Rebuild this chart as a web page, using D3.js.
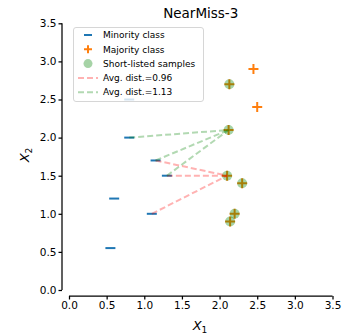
<!DOCTYPE html>
<html>
<head>
<meta charset="utf-8">
<script src="https://cdn.jsdelivr.net/npm/d3@7"></script>
<style>
  body { margin: 0; background: #fff; }
  text { font-family: "DejaVu Sans", sans-serif; }
</style>
</head>
<body>
<div id="chart"></div>
<script>
// data
const minorityX = [0.8, 0.8, 1.15, 1.3, 0.6, 1.1, 0.55];
const minorityY = [2.5, 2.0, 1.7, 1.5, 1.2, 1.0, 0.55];
const majorityX = [2.1, 2.12, 2.13, 2.14, 2.2, 2.3, 2.5, 2.45];
const majorityY = [1.5, 2.1, 2.7, 0.9, 1.0, 1.4, 2.4, 2.9];
const shortListed = [0, 1, 2, 3, 4, 5]; // indices into majority
// dashed links: [minority index, majority index]
const redLinks = [[2, 0], [3, 0], [5, 0]];
const greenLinks = [[1, 1], [2, 1], [3, 1]];
const ticks = [0, 0.5, 1, 1.5, 2, 2.5, 3, 3.5];
const legendLabels = ["Minority class", "Majority class", "Short-listed samples", "Avg. dist.=0.96", "Avg. dist.=1.13"];

const W = 350, H = 336;
const blue = "#1f77b4", orange = "#ff7f0e";

const svg = d3.select("#chart")
  .append("svg")
    .attr("width", W)
    .attr("height", H);

const x = d3.scaleLinear().domain([0, 3.5]).range([69, 332.5]);
const y = d3.scaleLinear().domain([0, 3.5]).range([290, 23.3]);

// axes (despined + offset)
const xAxis = svg.append("g")
  .attr("transform", "translate(0,296)")
  .call(d3.axisBottom(x).tickValues(ticks).tickFormat(d3.format(".1f")).tickSize(3.5).tickPadding(2));
const yAxis = svg.append("g")
  .attr("transform", "translate(62,0)")
  .call(d3.axisLeft(y).tickValues(ticks).tickFormat(d3.format(".1f")).tickSize(3.5).tickPadding(2));

[xAxis, yAxis].forEach(a => {
  a.select(".domain").attr("stroke", "#000").attr("stroke-width", 1.25).attr("d",
    a === xAxis ? `M${x(0)},0H${x(3.5)}` : `M0,${y(0)}V${y(3.5)}`);
  a.selectAll(".tick line").attr("stroke", "#000").attr("stroke-width", 1.25);
  a.selectAll(".tick text").attr("fill", "#000").style("font-size", "10.5px")
    .style("font-family", "DejaVu Sans");
});

// minority markers "_"
svg.append("g").selectAll("line")
  .data(minorityX.map((d, i) => [d, minorityY[i]]))
  .enter().append("line")
    .attr("x1", d => x(d[0]) - 5)
    .attr("x2", d => x(d[0]) + 5)
    .attr("y1", d => y(d[1]))
    .attr("y2", d => y(d[1]))
    .attr("stroke", blue)
    .attr("stroke-width", 2);

// majority markers "+"
svg.append("g").selectAll("path")
  .data(majorityX.map((d, i) => [d, majorityY[i]]))
  .enter().append("path")
    .attr("d", d => `M${x(d[0]) - 5},${y(d[1])}H${x(d[0]) + 5}M${x(d[0])},${y(d[1]) - 5}V${y(d[1]) + 5}`)
    .attr("stroke", orange)
    .attr("stroke-width", 2)
    .attr("fill", "none");

// short-listed samples
svg.append("g").selectAll("circle")
  .data(shortListed)
  .enter().append("circle")
    .attr("cx", i => x(majorityX[i]))
    .attr("cy", i => y(majorityY[i]))
    .attr("r", 5)
    .attr("fill", "green")
    .attr("fill-opacity", 0.35)
    .attr("stroke", "none");

// dashed distance lines
function drawLinks(links, color) {
  svg.append("g").selectAll("line")
    .data(links)
    .enter().append("line")
      .attr("x1", d => x(minorityX[d[0]]))
      .attr("y1", d => y(minorityY[d[0]]))
      .attr("x2", d => x(majorityX[d[1]]))
      .attr("y2", d => y(majorityY[d[1]]))
      .attr("stroke", color)
      .attr("stroke-opacity", 0.3)
      .attr("stroke-width", 2)
      .attr("stroke-dasharray", "6,3");
}
drawLinks(redLinks, "red");
drawLinks(greenLinks, "green");

// title and labels
svg.append("text")
  .attr("x", (x(0) + x(3.5)) / 2)
  .attr("y", 18)
  .attr("text-anchor", "middle")
  .style("font-size", "13.5px")
  .text("NearMiss-3");

const xl = svg.append("text")
  .attr("x", 200)
  .attr("y", 330)
  .attr("text-anchor", "middle")
  .style("font-size", "13px");
xl.append("tspan").style("font-style", "italic").text("X");
xl.append("tspan").attr("dy", 3).style("font-size", "9px").text("1");

const yl = svg.append("text")
  .attr("transform", "translate(29,155) rotate(-90)")
  .attr("text-anchor", "middle")
  .style("font-size", "13px");
yl.append("tspan").style("font-style", "italic").text("X");
yl.append("tspan").attr("dy", 3).style("font-size", "9px").text("2");

// legend
const lg = svg.append("g");
lg.append("rect")
  .attr("x", 73.5).attr("y", 27.5)
  .attr("width", 130).attr("height", 74)
  .attr("rx", 2.5)
  .attr("fill", "#fff").attr("fill-opacity", 0.8)
  .attr("stroke", "#ccc").attr("stroke-width", 0.8);

const rowY = i => 35 + i * 14.3;
const mx = 88;
lg.append("line").attr("x1", mx - 4).attr("x2", mx + 4).attr("y1", rowY(0)).attr("y2", rowY(0))
  .attr("stroke", blue).attr("stroke-width", 2);
lg.append("path").attr("d", `M${mx - 4},${rowY(1)}H${mx + 4}M${mx},${rowY(1) - 4}V${rowY(1) + 4}`)
  .attr("stroke", orange).attr("stroke-width", 2);
lg.append("circle").attr("cx", mx).attr("cy", rowY(2)).attr("r", 4.5)
  .attr("fill", "green").attr("fill-opacity", 0.35);
lg.append("line").attr("x1", mx - 10).attr("x2", mx + 10).attr("y1", rowY(3)).attr("y2", rowY(3))
  .attr("stroke", "red").attr("stroke-opacity", 0.3).attr("stroke-width", 2).attr("stroke-dasharray", "6,3");
lg.append("line").attr("x1", mx - 10).attr("x2", mx + 10).attr("y1", rowY(4)).attr("y2", rowY(4))
  .attr("stroke", "green").attr("stroke-opacity", 0.3).attr("stroke-width", 2).attr("stroke-dasharray", "6,3");

lg.selectAll("text.lbl")
  .data(legendLabels)
  .enter().append("text")
    .attr("class", "lbl")
    .attr("x", 103)
    .attr("y", (d, i) => rowY(i) + 3.2)
    .style("font-size", "9px")
    .text(d => d);
</script>
</body>
</html>
